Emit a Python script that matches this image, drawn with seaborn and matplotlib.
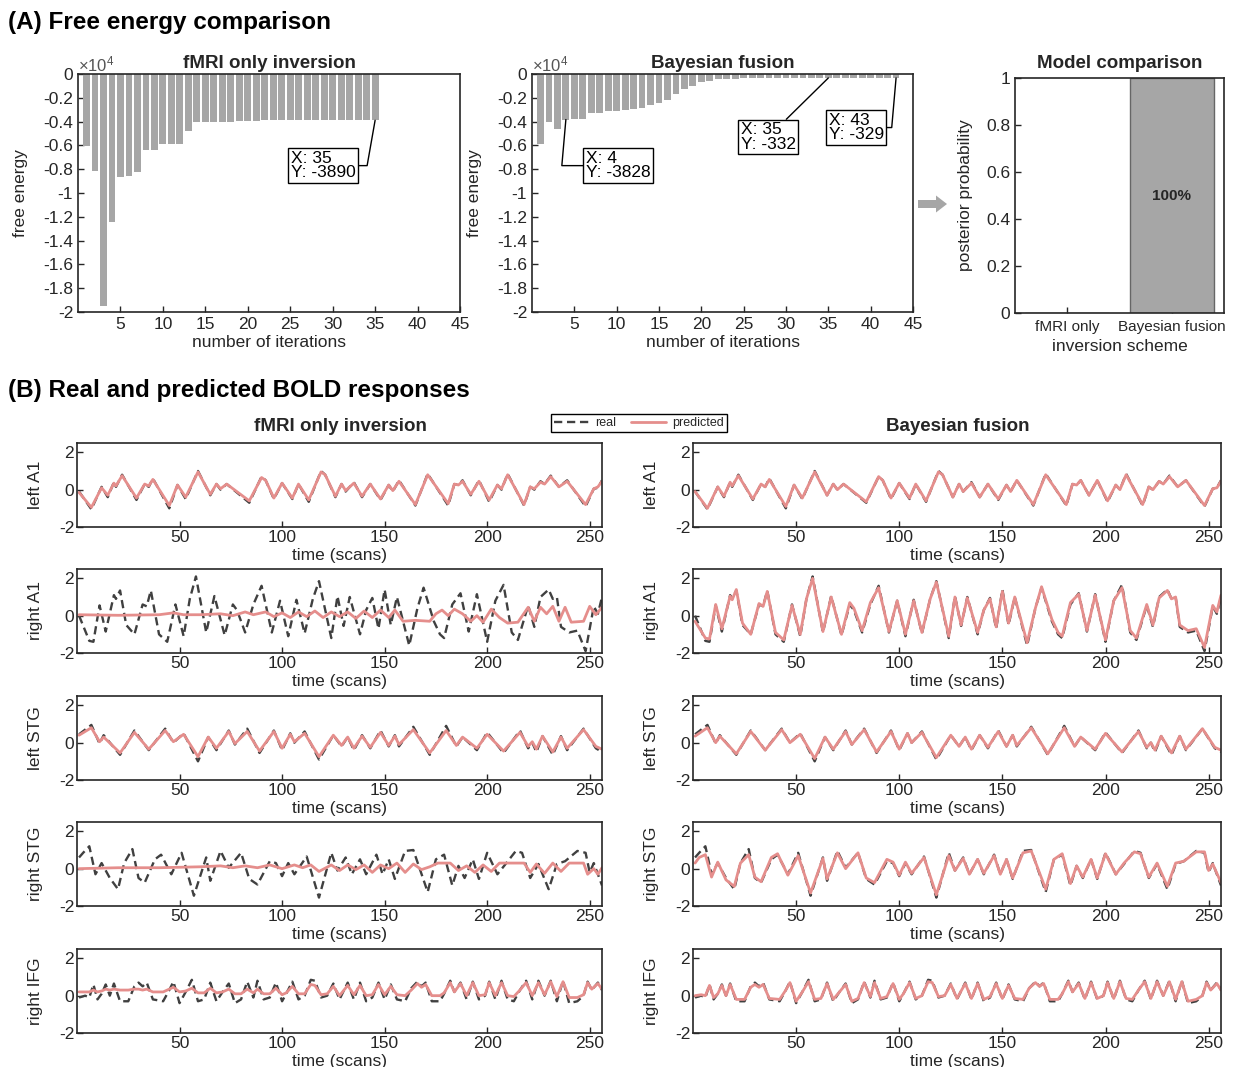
import numpy as np
import pandas as pd
import seaborn as sns
import matplotlib.pyplot as plt
from matplotlib.patches import FancyArrow

# ---- (A) free energy per iteration (raw values, shown in units of 1e4) ----
FE_FMRI = [-6060, -8170, -19500, -12450, -8650, -8600, -8220, -6400, -6400, -5920,
           -5920, -5920, -4790, -4050, -4050, -4050, -4050, -4050, -3950, -3920,
           -3910, -3900, -3900, -3900, -3900, -3900, -3900, -3900, -3900, -3900,
           -3900, -3895, -3890, -3890, -3890]
FE_FUSION = [-5900, -4000, -4650, -3828, -3800, -3800, -3240, -3240, -3150, -3150,
             -3050, -2950, -2870, -2620, -2400, -2200, -1690, -1270, -990, -700,
             -550, -450, -400, -380, -360, -345, -340, -338, -336, -335,
             -334, -333, -333, -332, -332, -331, -331, -330, -330, -330,
             -329, -329, -329]
MODELS = ['fMRI only', 'Bayesian fusion']
POSTERIOR = [0.0, 1.0]

# ---- (B) BOLD time series, (scan, value) pairs ----
LA1_REAL = [(1, -0.1), (7, -1.05), (12, 0.15), (15, -0.4), (18, 0.4), (19, 0.15), (22, 0.8), (29, -0.55), (33, 0.3), (35, 0.15),
            (37, 0.6), (45, -1.0), (49, 0.25), (53, -0.5), (59, 1.0), (65, -0.3), (68, 0.3), (70, 0.0), (73, 0.3), (84, -0.7),
            (90, 0.7), (92, 0.5), (96, -0.5), (100, 0.35), (105, -0.5), (108, 0.3), (113, -0.65), (119, 1.0), (121, 0.8), (126, -0.4),
            (129, 0.3), (131, -0.1), (135, 0.4), (139, -0.4), (143, 0.3), (148, -0.55), (152, 0.25), (154, -0.1), (157, 0.5), (165, -0.85),
            (171, 0.85), (181, -0.85), (184, 0.3), (186, 0.25), (188, 0.5), (192, -0.3), (196, 0.5), (201, -0.65), (205, 0.25), (207, 0.0),
            (210, 0.85), (218, -0.85), (221, 0.15), (223, 0.0), (226, 0.45), (228, 0.3), (231, 0.75), (235, 0.15), (239, 0.5), (248, -0.9),
            (252, 0.05), (254, 0.1), (256, 0.5)]
LA1_FMRI = [(1, -0.15), (7, -0.95), (12, 0.1), (15, -0.3), (18, 0.35), (19, 0.2), (22, 0.75), (29, -0.45), (33, 0.3), (35, 0.2),
            (37, 0.55), (45, -0.85), (49, 0.25), (53, -0.4), (59, 0.95), (65, -0.25), (68, 0.3), (70, 0.05), (73, 0.3), (84, -0.6),
            (90, 0.65), (92, 0.5), (96, -0.45), (100, 0.35), (105, -0.45), (108, 0.3), (113, -0.55), (119, 0.95), (121, 0.8), (126, -0.35),
            (129, 0.3), (131, -0.05), (135, 0.35), (139, -0.35), (143, 0.3), (148, -0.5), (152, 0.25), (154, -0.05), (157, 0.45), (165, -0.8),
            (171, 0.8), (181, -0.75), (184, 0.3), (186, 0.25), (188, 0.45), (192, -0.25), (196, 0.45), (201, -0.55), (205, 0.25), (207, 0.05),
            (210, 0.8), (218, -0.8), (221, 0.15), (223, 0.05), (226, 0.4), (228, 0.3), (231, 0.7), (235, 0.15), (239, 0.45), (248, -0.8),
            (252, 0.05), (254, 0.15), (256, 0.45)]
LA1_FUSION = [(1, -0.1), (7, -1.0), (12, 0.15), (15, -0.35), (18, 0.4), (19, 0.2), (22, 0.75), (29, -0.5), (33, 0.3), (35, 0.15),
              (37, 0.55), (45, -0.9), (49, 0.25), (53, -0.45), (59, 0.95), (65, -0.3), (68, 0.3), (70, 0.0), (73, 0.3), (84, -0.65),
              (90, 0.7), (92, 0.5), (96, -0.45), (100, 0.35), (105, -0.45), (108, 0.3), (113, -0.6), (119, 0.95), (121, 0.8), (126, -0.4),
              (129, 0.3), (131, -0.1), (135, 0.35), (139, -0.4), (143, 0.3), (148, -0.5), (152, 0.25), (154, -0.1), (157, 0.5), (165, -0.8),
              (171, 0.8), (181, -0.8), (184, 0.3), (186, 0.25), (188, 0.5), (192, -0.3), (196, 0.5), (201, -0.6), (205, 0.25), (207, 0.0),
              (210, 0.8), (218, -0.8), (221, 0.15), (223, 0.0), (226, 0.45), (228, 0.3), (231, 0.7), (235, 0.15), (239, 0.5), (248, -0.85),
              (252, 0.05), (254, 0.1), (256, 0.45)]

RA1_REAL = [(1, 0.0), (6, -1.35), (8, -1.4), (11, 0.55), (14, -0.85), (18, 1.1), (19, 0.9), (21, 1.35), (24, -0.5), (28, -1.0),
            (32, 0.6), (34, 0.5), (36, 1.35), (40, -1.0), (44, -1.4), (48, 0.6), (52, -1.1), (55, 0.9), (58, 2.1), (63, -0.9),
            (67, 1.05), (72, -1.05), (76, 0.6), (78, 0.3), (82, -0.9), (86, 0.6), (90, 1.6), (95, -0.9), (99, 0.8), (103, -1.1),
            (107, 0.85), (111, -0.95), (115, 0.9), (118, 1.85), (124, -1.2), (127, 1.05), (130, -0.55), (133, 1.0), (138, -1.0), (141, 0.3),
            (144, 0.95), (147, -0.7), (150, 1.4), (153, -0.5), (156, 1.0), (162, -1.6), (166, 0.4), (169, 1.5), (174, -0.3), (177, -1.0),
            (179, -1.2), (183, 0.6), (187, 1.2), (191, -0.85), (195, 1.15), (200, -1.4), (204, 0.8), (208, 1.65), (212, -0.9), (215, -1.3),
            (220, 0.55), (223, -0.6), (226, 1.0), (230, 1.4), (232, 0.9), (234, 1.0), (236, -0.6), (240, -0.9), (244, -0.8), (248, -1.9),
            (252, 0.5), (254, 0.1), (256, 1.0)]
RA1_FMRI = [(1, 0.05), (20, 0.02), (40, 0.05), (47, 0.15), (52, 0.05), (60, 0.05), (70, 0.1), (76, 0.0), (82, 0.2), (86, 0.05),
            (92, 0.2), (96, -0.05), (100, 0.15), (104, -0.1), (108, 0.2), (112, -0.05), (116, 0.25), (120, -0.1), (124, 0.2), (128, -0.05),
            (132, 0.2), (136, -0.15), (140, 0.25), (144, -0.1), (148, 0.3), (152, -0.1), (155, 0.3), (159, -0.3), (165, -0.25), (172, -0.3),
            (175, 0.1), (178, 0.3), (181, 0.0), (184, 0.35), (188, 0.1), (192, -0.3), (195, 0.0), (198, -0.35), (202, 0.35), (206, -0.1),
            (210, -0.4), (215, -0.35), (220, 0.45), (223, -0.3), (226, 0.45), (229, 0.1), (232, 0.5), (235, -0.3), (238, 0.45), (241, -0.35),
            (247, -0.3), (250, 0.5), (253, 0.05), (256, 0.45)]
RA1_FUSION = [(1, -0.3), (6, -1.2), (8, -1.25), (11, 0.6), (14, -0.7), (18, 1.05), (19, 0.85), (21, 1.4), (24, -0.4), (28, -1.0),
              (32, 0.65), (34, 0.5), (36, 1.3), (40, -0.9), (44, -1.3), (48, 0.55), (52, -1.0), (55, 0.9), (58, 2.0), (63, -0.85),
              (67, 1.0), (72, -1.0), (76, 0.7), (78, 0.4), (82, -0.8), (86, 0.7), (90, 1.5), (95, -0.85), (99, 0.8), (103, -1.0),
              (107, 0.8), (111, -0.9), (115, 0.9), (118, 1.8), (124, -1.1), (127, 1.0), (130, -0.5), (133, 0.95), (138, -0.9), (141, 0.3),
              (144, 0.9), (147, -0.6), (150, 1.3), (153, -0.4), (156, 1.0), (162, -1.45), (166, 0.4), (169, 1.55), (174, -0.2), (177, -0.9),
              (179, -1.1), (183, 0.7), (187, 1.15), (191, -0.8), (195, 1.1), (200, -1.3), (204, 0.8), (208, 1.5), (212, -0.8), (215, -1.2),
              (220, 0.6), (223, -0.5), (226, 0.95), (230, 1.35), (232, 0.9), (234, 1.0), (236, -0.5), (240, -0.8), (244, -0.7), (248, -1.7),
              (252, 0.55), (254, 0.2), (256, 1.1)]

LSTG_REAL = [(1, 0.45), (7, 0.95), (11, -0.05), (13, 0.4), (21, -0.65), (28, 0.65), (35, -0.4), (43, 0.75), (47, 0.0), (52, 0.5),
             (59, -1.0), (64, 0.3), (68, -0.4), (74, 0.65), (77, -0.1), (83, 0.75), (89, -0.55), (96, 0.65), (100, -0.4), (104, 0.5),
             (106, 0.0), (111, 0.6), (118, -0.9), (125, 0.4), (129, -0.2), (132, 0.3), (135, -0.4), (139, 0.4), (143, -0.3), (148, 0.65),
             (152, -0.2), (155, 0.4), (157, -0.2), (164, 0.85), (172, -0.65), (180, 0.9), (185, -0.2), (188, 0.3), (195, -0.4), (200, 0.55),
             (208, -0.55), (216, 0.65), (220, -0.3), (222, 0.0), (224, -0.5), (227, 0.35), (232, -0.65), (236, 0.35), (239, -0.4), (247, 0.75),
             (253, -0.3), (256, -0.5)]
LSTG_FMRI = [(1, 0.4), (7, 0.8), (11, 0.05), (13, 0.3), (21, -0.55), (28, 0.55), (35, -0.35), (43, 0.65), (47, 0.05), (52, 0.45),
             (59, -0.75), (64, 0.3), (68, -0.3), (74, 0.6), (77, -0.05), (83, 0.6), (89, -0.45), (96, 0.6), (100, -0.3), (104, 0.45),
             (106, 0.05), (111, 0.5), (118, -0.75), (125, 0.4), (129, -0.15), (132, 0.3), (135, -0.3), (139, 0.35), (143, -0.25), (148, 0.55),
             (152, -0.15), (155, 0.35), (157, -0.1), (164, 0.7), (172, -0.55), (180, 0.65), (185, -0.15), (188, 0.3), (195, -0.3), (200, 0.45),
             (208, -0.45), (216, 0.55), (220, -0.2), (222, 0.05), (224, -0.35), (227, 0.35), (232, -0.5), (236, 0.3), (239, -0.3), (247, 0.7),
             (253, -0.2), (256, -0.35)]
LSTG_FUSION = [(1, 0.35), (7, 0.8), (11, 0.0), (13, 0.35), (21, -0.6), (28, 0.6), (35, -0.4), (43, 0.7), (47, 0.0), (52, 0.45),
               (59, -0.85), (64, 0.3), (68, -0.35), (74, 0.6), (77, -0.1), (83, 0.7), (89, -0.5), (96, 0.6), (100, -0.35), (104, 0.5),
               (106, 0.0), (111, 0.55), (118, -0.8), (125, 0.4), (129, -0.2), (132, 0.3), (135, -0.35), (139, 0.4), (143, -0.25), (148, 0.6),
               (152, -0.2), (155, 0.4), (157, -0.15), (164, 0.8), (172, -0.6), (180, 0.8), (185, -0.2), (188, 0.3), (195, -0.35), (200, 0.5),
               (208, -0.5), (216, 0.6), (220, -0.25), (222, 0.0), (224, -0.4), (227, 0.35), (232, -0.55), (236, 0.35), (239, -0.35), (247, 0.75),
               (253, -0.25), (256, -0.4)]

RSTG_REAL = [(1, 0.6), (3, 0.85), (6, 1.2), (9, -0.3), (12, 0.3), (16, -0.5), (20, -1.1), (23, 0.3), (27, 1.05), (30, -0.5),
             (33, -0.75), (38, 0.5), (41, 0.75), (46, -0.3), (51, 0.85), (57, -1.45), (63, 0.6), (65, -0.65), (70, 0.95), (74, 0.05),
             (80, 0.85), (84, -0.55), (88, -0.85), (94, 0.4), (97, 0.3), (100, -0.4), (103, 0.3), (106, -0.3), (112, 0.65), (118, -1.55),
             (124, 0.85), (127, -0.1), (131, 0.6), (134, -0.3), (138, 0.5), (141, -0.3), (146, 0.75), (149, -0.3), (152, 0.5), (155, -0.55),
             (160, 0.95), (164, 1.0), (171, -1.25), (175, 0.5), (179, 0.75), (183, -0.9), (186, 0.15), (189, -0.5), (193, 0.5), (196, -0.55),
             (200, 0.85), (205, -0.3), (209, 0.25), (214, 0.95), (217, 0.85), (221, -0.5), (225, 0.25), (230, -1.1), (234, 0.25), (238, 0.4),
             (244, 0.95), (248, 0.85), (250, -0.2), (252, 0.3), (256, -0.9)]
RSTG_FMRI = [(1, 0.0), (20, 0.05), (40, 0.05), (60, 0.1), (70, 0.15), (76, 0.05), (82, 0.15), (88, 0.05), (94, 0.2), (100, 0.0),
             (106, 0.2), (110, 0.05), (114, 0.2), (118, -0.15), (124, 0.2), (128, -0.1), (132, 0.2), (136, -0.05), (140, 0.2), (144, -0.2),
             (148, 0.2), (152, 0.0), (156, 0.3), (160, -0.2), (164, 0.25), (168, -0.05), (172, 0.1), (176, 0.3), (182, 0.3), (186, -0.1),
             (190, 0.15), (194, -0.2), (198, 0.2), (202, -0.15), (206, 0.3), (214, 0.3), (218, 0.3), (221, -0.2), (224, 0.25), (228, -0.25),
             (232, 0.3), (236, -0.15), (240, 0.3), (247, 0.3), (249, -0.3), (252, 0.0), (254, -0.3), (256, 0.05)]
RSTG_FUSION = [(1, 0.3), (3, 0.6), (6, 0.75), (9, -0.45), (12, 0.35), (16, -0.6), (20, -0.95), (23, 0.3), (27, 0.75), (30, -0.45),
               (33, -0.7), (38, 0.6), (41, 0.8), (46, -0.35), (51, 0.7), (57, -1.3), (63, 0.55), (65, -0.55), (70, 0.85), (74, 0.0),
               (80, 0.85), (84, -0.5), (88, -0.75), (94, 0.5), (97, 0.35), (100, -0.35), (103, 0.35), (106, -0.25), (112, 0.6), (118, -1.4),
               (124, 0.7), (127, -0.1), (131, 0.55), (134, -0.3), (138, 0.5), (141, -0.25), (146, 0.7), (149, -0.3), (152, 0.5), (155, -0.5),
               (160, 0.85), (164, 0.95), (171, -1.1), (175, 0.5), (179, 0.8), (183, -0.8), (186, 0.15), (189, -0.45), (193, 0.5), (196, -0.5),
               (200, 0.8), (205, -0.3), (209, 0.3), (214, 0.9), (217, 0.8), (221, -0.45), (225, 0.3), (230, -0.95), (234, 0.3), (238, 0.4),
               (244, 0.9), (248, 0.9), (250, -0.1), (252, 0.25), (256, -0.75)]

RIFG_REAL = [(1, -0.1), (4, 0.0), (6, -0.1), (8, 0.6), (10, -0.2), (12, 0.1), (14, 0.6), (16, 0.0), (18, 0.65), (21, -0.3),
             (25, -0.3), (28, 0.5), (30, 0.7), (32, 0.5), (34, 0.7), (37, -0.2), (42, -0.3), (45, 0.3), (47, 0.75), (50, -0.4),
             (53, 0.2), (56, 0.85), (59, -0.3), (62, -0.2), (65, 0.7), (68, -0.3), (71, 0.2), (74, 0.65), (77, -0.4), (80, -0.2),
             (83, 0.75), (86, -0.1), (88, 0.8), (91, -0.2), (94, -0.1), (97, 0.7), (100, -0.3), (102, 0.1), (105, 0.75), (108, -0.2),
             (111, 0.0), (114, 0.85), (116, 0.8), (119, -0.1), (122, 0.0), (125, 0.65), (128, -0.2), (132, 0.7), (135, -0.2), (138, 0.7),
             (141, -0.3), (144, -0.1), (147, 0.7), (150, -0.2), (153, 0.6), (156, -0.2), (160, -0.3), (163, 0.4), (166, 0.75), (168, 0.5),
             (170, 0.7), (173, -0.3), (177, -0.3), (179, 0.1), (182, 0.8), (184, 0.2), (187, 0.7), (190, -0.2), (193, 0.75), (196, -0.2),
             (199, 0.0), (201, 0.75), (204, -0.2), (207, 0.8), (210, -0.2), (213, -0.3), (216, 0.3), (219, 0.8), (222, -0.2), (225, 0.8),
             (228, 0.0), (231, 0.8), (234, -0.3), (237, 0.8), (240, -0.4), (244, -0.3), (247, 0.0), (249, 0.75), (251, 0.3), (254, 0.7),
             (256, 0.3)]
RIFG_FMRI = [(1, 0.2), (4, 0.2), (6, 0.2), (8, 0.3), (10, 0.2), (12, 0.25), (14, 0.35), (16, 0.3), (18, 0.35), (21, 0.3),
             (25, 0.3), (28, 0.35), (30, 0.35), (32, 0.3), (34, 0.35), (37, 0.2), (42, 0.2), (45, 0.35), (47, 0.45), (50, 0.2),
             (53, 0.25), (56, 0.4), (59, 0.15), (62, 0.15), (65, 0.4), (68, 0.15), (71, 0.2), (74, 0.35), (77, 0.1), (80, 0.1),
             (83, 0.35), (86, 0.15), (88, 0.35), (91, 0.1), (94, 0.1), (97, 0.4), (100, 0.05), (102, 0.15), (105, 0.5), (108, 0.1),
             (111, 0.1), (114, 0.6), (116, 0.55), (119, 0.05), (122, 0.1), (125, 0.5), (128, 0.0), (132, 0.55), (135, 0.05), (138, 0.55),
             (141, 0.0), (144, 0.05), (147, 0.6), (150, 0.05), (153, 0.5), (156, 0.05), (160, 0.0), (163, 0.3), (166, 0.65), (168, 0.45),
             (170, 0.6), (173, 0.0), (177, 0.0), (179, 0.15), (182, 0.7), (184, 0.2), (187, 0.65), (190, 0.0), (193, 0.7), (196, 0.0),
             (199, 0.05), (201, 0.7), (204, 0.0), (207, 0.7), (210, 0.0), (213, -0.05), (216, 0.3), (219, 0.7), (222, 0.0), (225, 0.7),
             (228, 0.05), (231, 0.75), (234, -0.05), (237, 0.75), (240, -0.1), (244, -0.1), (247, 0.05), (249, 0.7), (251, 0.35), (254, 0.65),
             (256, 0.35)]
RIFG_FUSION = [(1, 0.0), (4, 0.05), (6, 0.0), (8, 0.55), (10, -0.1), (12, 0.1), (14, 0.55), (16, 0.0), (18, 0.6), (21, -0.2),
               (25, -0.2), (28, 0.45), (30, 0.6), (32, 0.45), (34, 0.6), (37, -0.15), (42, -0.2), (45, 0.3), (47, 0.7), (50, -0.3),
               (53, 0.2), (56, 0.75), (59, -0.2), (62, -0.15), (65, 0.65), (68, -0.2), (71, 0.2), (74, 0.6), (77, -0.3), (80, -0.15),
               (83, 0.7), (86, -0.05), (88, 0.7), (91, -0.15), (94, -0.05), (97, 0.65), (100, -0.2), (102, 0.1), (105, 0.7), (108, -0.15),
               (111, 0.0), (114, 0.75), (116, 0.7), (119, -0.05), (122, 0.0), (125, 0.6), (128, -0.15), (132, 0.65), (135, -0.15), (138, 0.65),
               (141, -0.2), (144, -0.05), (147, 0.65), (150, -0.15), (153, 0.55), (156, -0.15), (160, -0.2), (163, 0.4), (166, 0.7), (168, 0.5),
               (170, 0.65), (173, -0.2), (177, -0.2), (179, 0.1), (182, 0.75), (184, 0.2), (187, 0.65), (190, -0.15), (193, 0.7), (196, -0.15),
               (199, 0.0), (201, 0.7), (204, -0.15), (207, 0.75), (210, -0.15), (213, -0.2), (216, 0.3), (219, 0.75), (222, -0.15), (225, 0.75),
               (228, 0.0), (231, 0.75), (234, -0.2), (237, 0.75), (240, -0.3), (244, -0.2), (247, 0.0), (249, 0.7), (251, 0.3), (254, 0.65),
               (256, 0.3)]

REGIONS = ['left A1', 'right A1', 'left STG', 'right STG', 'right IFG']
REAL = [LA1_REAL, RA1_REAL, LSTG_REAL, RSTG_REAL, RIFG_REAL]
PRED_FMRI = [LA1_FMRI, RA1_FMRI, LSTG_FMRI, RSTG_FMRI, RIFG_FMRI]
PRED_FUSION = [LA1_FUSION, RA1_FUSION, LSTG_FUSION, RSTG_FUSION, RIFG_FUSION]

# colours
BAR_GREY = '#a6a6a6'
REAL_COLOR = '#404040'
PRED_COLOR = '#e58e8c'
INK = '#262626'

W, H = 1237, 1067


def box(l, t, r, b):
    """pixel box (left, top, right, bottom) -> figure fraction rect"""
    return [l / W, 1 - b / H, (r - l) / W, (b - t) / H]


sns.set_style("ticks")
plt.rcParams['font.family'] = ['Liberation Sans', 'DejaVu Sans']
plt.rcParams['mathtext.fontset'] = 'custom'
plt.rcParams['mathtext.rm'] = 'Liberation Sans'
plt.rcParams['axes.unicode_minus'] = False
plt.rcParams['xtick.direction'] = 'in'
plt.rcParams['ytick.direction'] = 'in'
plt.rcParams['axes.edgecolor'] = INK
plt.rcParams['axes.linewidth'] = 1.2
plt.rcParams['xtick.color'] = INK
plt.rcParams['ytick.color'] = INK
plt.rcParams['text.color'] = INK

fig = plt.figure(figsize=(W / 100, H / 100), dpi=100)


def free_energy_panel(ax, values, title):
    df = pd.DataFrame({'iteration': np.arange(1, len(values) + 1),
                       'F': np.array(values) / 1e4})
    sns.barplot(data=df, x='iteration', y='F', native_scale=True, color=BAR_GREY,
                saturation=1, width=0.8, linewidth=0, errorbar=None, ax=ax)
    ax.set_xlim(0, 45)
    ax.set_ylim(-2, 0)
    ax.set_xticks(range(5, 46, 5))
    yt = np.round(np.arange(-2, 0.01, 0.2), 1) + 0.0
    ax.set_yticks(yt)
    ax.set_yticklabels([f'{v:g}' for v in yt])
    ax.tick_params(labelsize=12.5, length=4, width=1)
    ax.set_title(title, fontsize=13.5, fontweight='bold', pad=4)
    ax.set_xlabel('number of iterations', fontsize=12.5)
    ax.xaxis.set_label_coords(0.5, -0.095)
    ax.set_ylabel('free energy', fontsize=12.5)
    ax.yaxis.set_label_coords(-0.13, 0.5)
    ax.text(0.0, 1.0, r'$\mathregular{\times10^4}$', transform=ax.transAxes,
            fontsize=12, ha='left', va='bottom', color='#555555')


def datatip(ax, x, y, tx, ty, conn):
    ax.annotate(f'X: {x}\nY: {y}', xy=(x, y / 1e4), xytext=(tx, ty),
                fontsize=12.5, ha='center', va='center', multialignment='left',
                linespacing=0.95, color='black',
                bbox=dict(boxstyle='square,pad=0.15', fc='white', ec='black', lw=1),
                arrowprops=dict(arrowstyle='-', color='black', lw=1,
                                shrinkA=0, shrinkB=0, connectionstyle=conn))


# ---- (A) ----
ax1 = fig.add_axes(box(78, 74, 460, 312))
free_energy_panel(ax1, FE_FMRI, 'fMRI only inversion')
datatip(ax1, 35, FE_FMRI[34], 28.9, -0.77, 'angle,angleA=0,angleB=80,rad=0')

ax2 = fig.add_axes(box(532, 74, 913, 312))
free_energy_panel(ax2, FE_FUSION, 'Bayesian fusion')
datatip(ax2, 4, FE_FUSION[3], 10.2, -0.77, 'angle,angleA=0,angleB=85,rad=0')
datatip(ax2, 35, FE_FUSION[34], 27.9, -0.53, 'arc3')
datatip(ax2, 43, FE_FUSION[42], 38.3, -0.45, 'angle,angleA=0,angleB=85,rad=0')

ax3 = fig.add_axes(box(1015, 78, 1224, 313))
sns.barplot(x=[1, 2], y=POSTERIOR, native_scale=True, color=BAR_GREY, saturation=1,
            width=0.8, edgecolor='#666666', linewidth=1, errorbar=None, ax=ax3)
ax3.set_xlim(0.5, 2.5)
ax3.set_ylim(0, 1)
ax3.set_xticks([1, 2])
ax3.set_xticklabels(MODELS, fontsize=11)
ax3.set_yticks(np.round(np.arange(0, 1.01, 0.2), 1))
ax3.set_yticklabels(['0', '0.2', '0.4', '0.6', '0.8', '1'])
ax3.tick_params(axis='y', labelsize=12.5, length=4, width=1)
ax3.tick_params(axis='x', length=4, width=1, pad=5)
ax3.set_title('Model comparison', fontsize=13.5, fontweight='bold', pad=7)
ax3.set_xlabel('inversion scheme', fontsize=12.5)
ax3.xaxis.set_label_coords(0.5, -0.11)
ax3.set_ylabel('posterior probability', fontsize=12.5)
ax3.yaxis.set_label_coords(-0.2, 0.5)
ax3.text(2, 0.5, f'{POSTERIOR[1]:.0%}', ha='center', va='center', fontsize=11,
         fontweight='bold')

fig.add_artist(FancyArrow(918 / W, 1 - 204 / H, 29 / W, 0, width=8 / H,
                          head_width=17 / H, head_length=11 / W,
                          length_includes_head=True, transform=fig.transFigure,
                          color=BAR_GREY, lw=0))

# ---- (B) ----
ROW_TOPS = [443, 569, 696, 822, 949]
COLS = [(77, 602, PRED_FMRI), (693, 1221, PRED_FUSION)]
handles = labels = None
for left, right, preds in COLS:
    for ri, region in enumerate(REGIONS):
        top = ROW_TOPS[ri]
        ax = fig.add_axes(box(left, top, right, top + 84))
        rs, rv = zip(*REAL[ri])
        ps, pv = zip(*preds[ri])
        sns.lineplot(x=list(rs), y=list(rv), ax=ax, color=REAL_COLOR, lw=1.7,
                     linestyle=(0, (3.5, 2)), errorbar=None, label='real')
        sns.lineplot(x=list(ps), y=list(pv), ax=ax, color=PRED_COLOR, lw=2.0,
                     errorbar=None, label='predicted')
        if handles is None:
            handles, labels = ax.get_legend_handles_labels()
        ax.get_legend().remove()
        ax.set_xlim(0, 256)
        ax.set_ylim(-2, 2.5)
        ax.set_xticks([50, 100, 150, 200, 250])
        ax.set_yticks([-2, 0, 2])
        ax.tick_params(labelsize=12.5, length=4, width=1, pad=2)
        ax.set_xlabel('time (scans)', fontsize=12.5)
        ax.xaxis.set_label_coords(0.5, -0.25)
        ax.set_ylabel(region, fontsize=12.5)
        ax.yaxis.set_label_coords(-34 / (right - left), 0.5)

fig.text(340 / W, 1 - 426 / H, 'fMRI only inversion', fontsize=13.5,
         fontweight='bold', ha='center', va='center')
fig.text(958 / W, 1 - 426 / H, 'Bayesian fusion', fontsize=13.5,
         fontweight='bold', ha='center', va='center')
fig.legend(handles, labels, loc='center', bbox_to_anchor=(639 / W, 1 - 423 / H),
           ncol=2, fontsize=9, frameon=True, fancybox=False, edgecolor='black',
           framealpha=1, handlelength=2.8, borderpad=0.25, columnspacing=1.2,
           handletextpad=0.5)

# section headers
fig.text(8 / W, 1 - 22 / H, '(A) Free energy comparison', fontsize=17.5,
         fontweight='bold', ha='left', va='center', color='black')
fig.text(8 / W, 1 - 390 / H, '(B) Real and predicted BOLD responses', fontsize=17.5,
         fontweight='bold', ha='left', va='center', color='black')

fig.savefig('out.png', dpi=100)
